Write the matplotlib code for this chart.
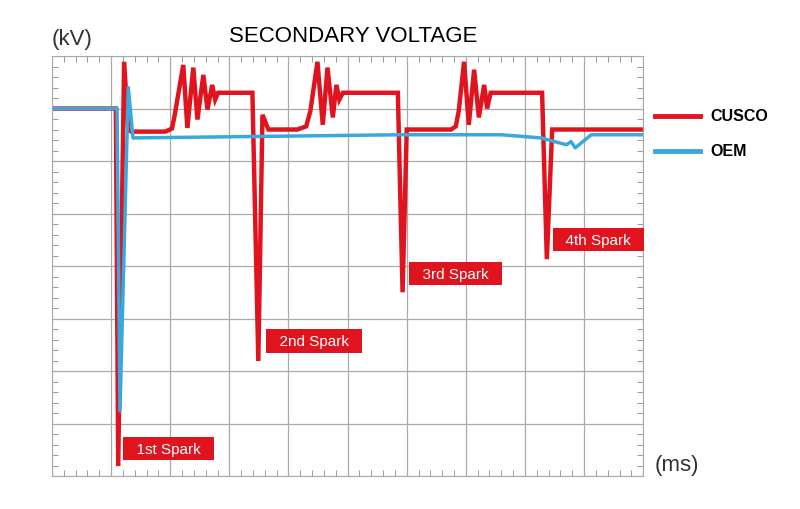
import matplotlib
matplotlib.use("Agg")
import matplotlib.pyplot as plt
from matplotlib.ticker import MultipleLocator

plt.rcParams['font.family'] = ['Liberation Sans', 'DejaVu Sans']

cusco_x = [0, 1.08, 1.12, 1.22, 1.29, 1.34, 1.92, 2.03, 2.08, 2.22, 2.29, 2.39, 2.46, 2.56, 2.63, 2.71, 2.76, 2.81,
           3.39, 3.49, 3.56, 3.66, 4.15, 4.30, 4.37, 4.49, 4.58, 4.66, 4.75, 4.81, 4.86, 4.92,
           5.85, 5.93, 6.0, 6.75, 6.83, 6.88, 6.97, 7.05, 7.14, 7.22, 7.31, 7.36, 7.42,
           8.29, 8.37, 8.46, 10.0]
cusco_y = [7.0, 7.0, 0.19, 7.89, 6.6, 6.56, 6.56, 6.62, 6.9, 7.83, 6.63, 7.78, 6.79, 7.64, 6.98, 7.45, 7.17, 7.3,
           7.3, 2.19, 6.88, 6.6, 6.6, 6.66, 6.95, 7.89, 6.69, 7.78, 6.83, 7.45, 7.17, 7.3,
           7.3, 3.5, 6.6, 6.6, 6.66, 6.95, 7.89, 6.69, 7.74, 6.83, 7.45, 7.0, 7.3,
           7.3, 4.13, 6.6, 6.6]
oem_x = [0, 1.1, 1.15, 1.29, 1.37, 5.9, 7.6, 8.27, 8.7, 8.78, 8.85, 9.12, 10.0]
oem_y = [7.0, 7.0, 1.24, 7.4, 6.44, 6.5, 6.5, 6.44, 6.31, 6.37, 6.25, 6.5, 6.5]
labels = ["1st Spark", "2nd Spark", "3rd Spark", "4th Spark"]
label_pos = [(1.28, 0.52), (3.7, 2.57), (6.12, 3.85), (8.55, 4.5)]

RED = "#e0141e"
BLUE = "#3aa8dc"

fig = plt.figure(figsize=(8, 5.1), dpi=100)
ax = fig.add_axes([0.065, 0.0647, 0.739, 0.8235])
ax.set_xlim(0, 10)
ax.set_ylim(0, 8)
ax.xaxis.set_major_locator(MultipleLocator(1))
ax.yaxis.set_major_locator(MultipleLocator(1))
ax.xaxis.set_minor_locator(MultipleLocator(0.2))
ax.yaxis.set_minor_locator(MultipleLocator(0.2))
ax.grid(True, which="major", color="#aaaaaa", lw=0.9)
ax.tick_params(which="both", direction="in", top=True, right=True, labelbottom=False, labelleft=False, color="#999999")
ax.tick_params(which="major", length=0)
ax.tick_params(which="minor", length=4, width=0.7)
for s in ax.spines.values():
    s.set_color("#aaaaaa")

ax.plot(cusco_x, cusco_y, color=RED, lw=3.2, solid_joinstyle="miter")
ax.plot(oem_x, oem_y, color=BLUE, lw=2.5)

for t, (x, y) in zip(labels, label_pos):
    ax.text(x, y, "  " + t + "  ", color="white", fontsize=11, ha="left", va="center", clip_on=False,
            bbox=dict(boxstyle="square,pad=0.3", fc=RED, ec="none"))

fig.text(353/800, 1 - 37/510, "SECONDARY VOLTAGE", fontsize=16, ha="center", va="center")
fig.text(52/800, 1 - 40/510, "(kV)", fontsize=16, ha="left", va="center", color="#333333")
fig.text(655/800, 1 - 466/510, "(ms)", fontsize=16, ha="left", va="center", color="#333333")

fig.add_artist(plt.Line2D([655/800, 700/800], [1 - 117/510] * 2, color=RED, lw=3.5))
fig.add_artist(plt.Line2D([655/800, 700/800], [1 - 152/510] * 2, color=BLUE, lw=3.5))
fig.text(710/800, 1 - 117/510, "CUSCO", fontsize=11.5, fontweight="bold", va="center")
fig.text(710/800, 1 - 152/510, "OEM", fontsize=11.5, fontweight="bold", va="center")

fig.savefig("out.png", dpi=100, facecolor="white")
